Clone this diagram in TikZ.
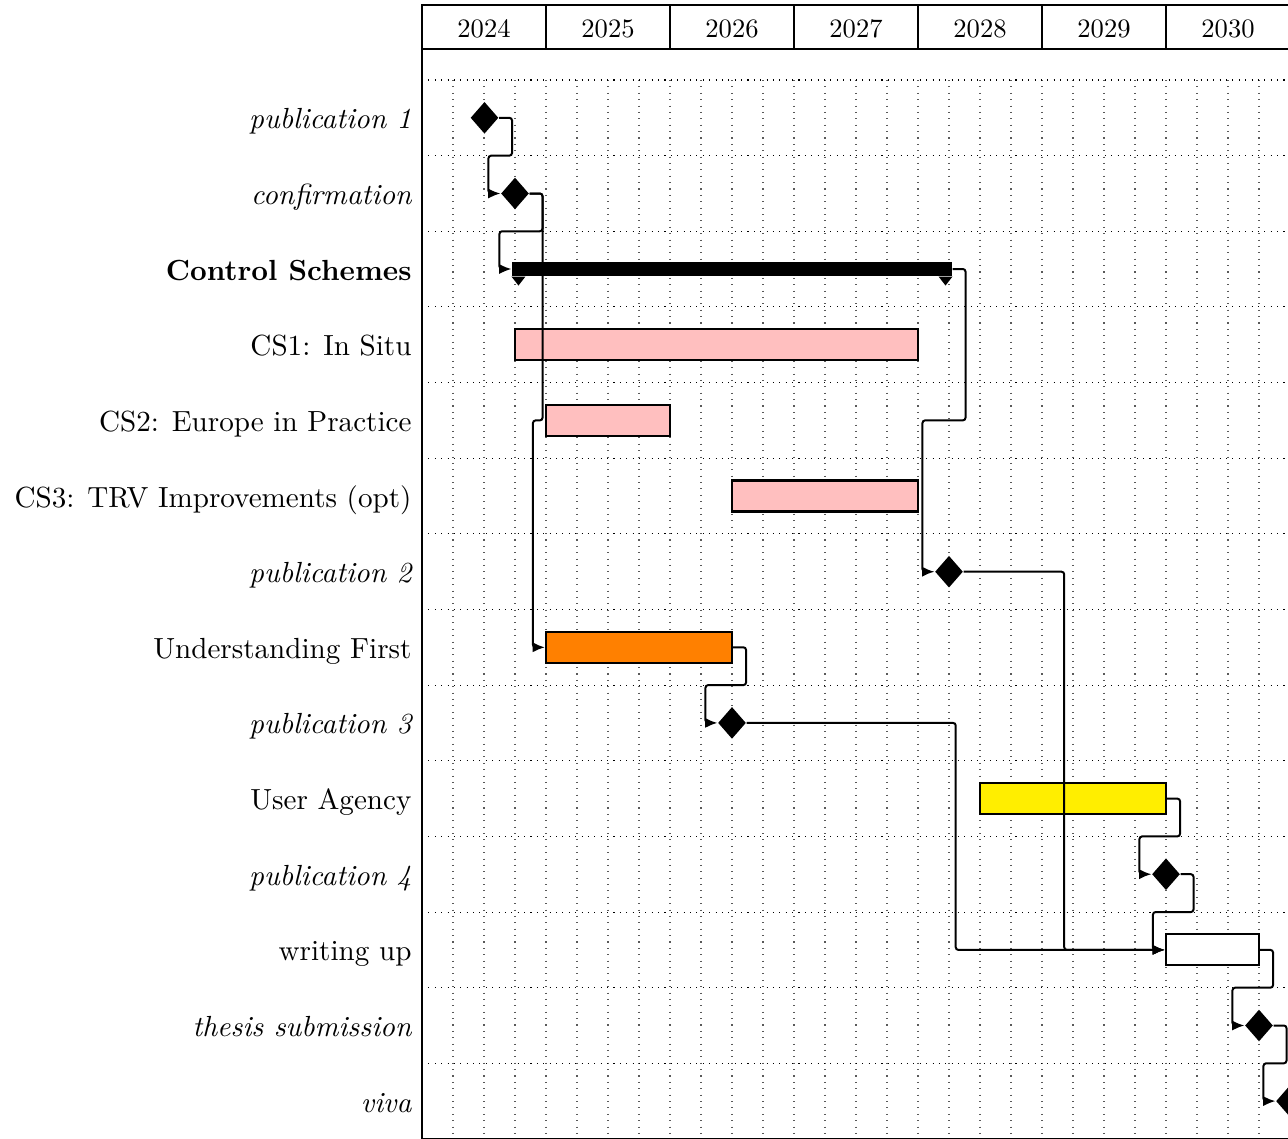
\documentclass[tikz,border=0pt]{standalone}
\usetikzlibrary{arrows.meta,calc,shapes.geometric}
\definecolor{pinkbar}{RGB}{255,191,191}
\definecolor{orangebar}{RGB}{255,128,0}
\definecolor{yellowbar}{RGB}{255,238,0}
\newcommand\linkrdldr[2]{%
  \path ($(#1.east)!0.5!(#2.west)$) coordinate (lkm)
        ($(#2.west)+(-12,0)$) coordinate (lke);
  \draw[lnk] (#1.east) -- ++(13,0) |- (lke |- lkm) -- (lke) -- (#2.west);}
\newcommand\linkrdr[2]{%
  \path ($(#1.east)!0.5!(#2.west)$) coordinate (lkm);
  \draw[lnk] (#1.east) -| (lkm) |- (#2.west);}
\begin{document}
\begin{tikzpicture}[x=0.3761pt,y=-0.3761pt,
  lbl/.style={anchor=base east,inner sep=0pt,font=\fontsize{10.95}{13.6}\selectfont},
  yr/.style={draw=black,line width=0.8pt,inner sep=0pt,font=\fontsize{10}{12}\selectfont,
             text height=7.6pt,text depth=0pt,
             minimum width=124*0.3761pt,minimum height=44*0.3761pt},
  taskbar/.style={draw=black,line width=0.8pt,rectangle,inner sep=0pt,minimum height=31*0.3761pt},
  ms/.style={diamond,fill=black,inner sep=0pt,minimum width=28*0.3761pt,minimum height=32*0.3761pt},
  lnk/.style={draw=black,line width=0.75pt,rounded corners=1pt,-{Latex[length=4.6pt,width=3.8pt]}},
  hgridline/.style={dotted,line width=0.4pt,black},
  vgridline/.style={dotted,line width=0.4pt,black!65}]
\useasboundingbox (0,0) rectangle (1288,1139);
\clip (0,0) rectangle (1288,1139);
% grid
\foreach \k in {1,...,27} \draw[vgridline] (422+31*\k,80) -- (422+31*\k,1139);
\foreach \k in {0,...,13} \draw[hgridline] (422,80+75.64*\k) -- (1290,80+75.64*\k);
% frame
\draw[line width=0.8pt] (422,49) rectangle (1290,1139);
% header
\foreach \i/\yy in {0/2024,1/2025,2/2026,3/2027,4/2028,5/2029,6/2030}
  \node[yr] (y\yy) at (484+124*\i,27) {\yy};
% labels
\node[lbl] (l1)  at (412,128.8)  {\itshape publication 1};
\node[lbl] (l2)  at (412,204.5)  {\itshape confirmation};
\node[lbl] (l3)  at (412,280.1)  {\bfseries Control Schemes};
\node[lbl] (l4)  at (412,355.7)  {CS1: In Situ};
\node[lbl] (l5)  at (412,431.4)  {CS2: Europe in Practice};
\node[lbl] (l6)  at (412,507.0)  {CS3: TRV Improvements (opt)};
\node[lbl] (l7)  at (412,582.7)  {\itshape publication 2};
\node[lbl] (l8)  at (412,658.3)  {Understanding First};
\node[lbl] (l9)  at (412,733.9)  {\itshape publication 3};
\node[lbl] (l10) at (412,809.6)  {User Agency};
\node[lbl] (l11) at (412,885.2)  {\itshape publication 4};
\node[lbl] (l12) at (412,960.9)  {writing up};
\node[lbl] (l13) at (412,1036.5) {\itshape thesis submission};
\node[lbl] (l14) at (412,1112.1) {\itshape viva};
% group bar
\node[fill=black,inner sep=0pt,minimum width=440*0.3761pt,minimum height=14*0.3761pt] (csg) at (732,269) {};
\fill (csg.south west) -- ++(14,0) -- ++(-7,9) -- cycle;
\fill (csg.south east) -- ++(-14,0) -- ++(7,9) -- cycle;
% bars
\node[taskbar,fill=pinkbar,minimum width=403*0.3761pt] (cs1) at (716.5,344.7) {};
\node[taskbar,fill=pinkbar,minimum width=124*0.3761pt] (cs2) at (608,420.4) {};
\node[taskbar,fill=pinkbar,minimum width=186*0.3761pt] (cs3) at (825,496.0) {};
\node[taskbar,fill=orangebar,minimum width=186*0.3761pt] (uf) at (639,647.3) {};
\node[taskbar,fill=yellowbar,minimum width=186*0.3761pt] (ua) at (1073,798.6) {};
\node[taskbar,fill=white,minimum width=93*0.3761pt] (wu) at (1212.5,949.9) {};
% milestones
\node[ms] (p1)   at (484.5,117.8) {};
\node[ms] (conf) at (515,193.5) {};
\node[ms] (p2)   at (949,571.7) {};
\node[ms] (p3)   at (732,722.9) {};
\node[ms] (p4)   at (1166,874.2) {};
\node[ms] (ts)   at (1259,1025.5) {};
\node[ms] (viva) at (1290,1101.1) {};
% links
\linkrdldr{p1}{conf}
\linkrdldr{conf}{csg}
\linkrdldr{conf}{uf}
\linkrdldr{csg}{p2}
\linkrdldr{uf}{p3}
\linkrdr{p3}{wu}
\linkrdr{p2}{wu}
\linkrdldr{ua}{p4}
\linkrdldr{p4}{wu}
\linkrdldr{wu}{ts}
\linkrdldr{ts}{viva}
\end{tikzpicture}
\end{document}
